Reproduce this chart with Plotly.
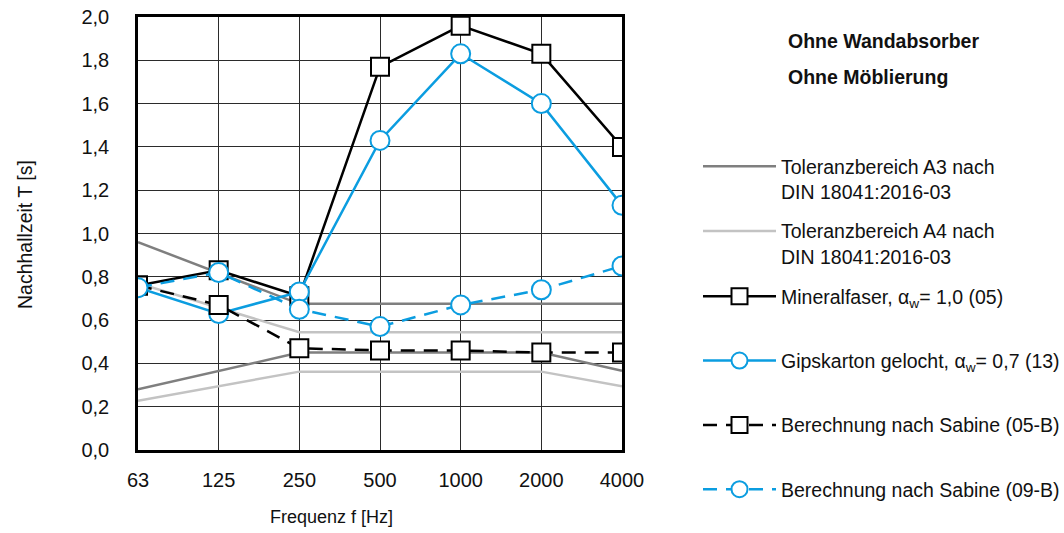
import plotly.graph_objects as go

# Oktavband-Mittenfrequenzen
freq = ["63", "125", "250", "500", "1000", "2000", "4000"]

# Gemessene Nachhallzeiten [s]
mineralfaser = [0.76, 0.83, 0.71, 1.77, 1.96, 1.83, 1.40]
gipskarton = [0.75, 0.63, 0.73, 1.43, 1.83, 1.60, 1.13]

# Berechnete Nachhallzeiten nach Sabine [s]
sabine_05b = [0.76, 0.67, 0.47, 0.46, 0.46, 0.45, 0.45]
sabine_09b = [0.75, 0.82, 0.65, 0.57, 0.67, 0.74, 0.85]

# Toleranzbereiche nach DIN 18041:2016-03 [s]
a3_oben = [0.96, 0.8175, 0.675, 0.675, 0.675, 0.675, 0.675]
a3_unten = [0.28, 0.365, 0.45, 0.45, 0.45, 0.45, 0.366]
a4_oben = [0.77, 0.657, 0.544, 0.544, 0.544, 0.544, 0.544]
a4_unten = [0.227, 0.295, 0.362, 0.362, 0.362, 0.362, 0.294]

y_ticks = [0.0, 0.2, 0.4, 0.6, 0.8, 1.0, 1.2, 1.4, 1.6, 1.8, 2.0]

BLACK = "#000000"
BLUE = "#0b9de0"
GRAY_A3 = "#7f7f7f"
GRAY_A4 = "#c3c3c3"
FONT = "Liberation Sans, Arial, sans-serif"
TXT = "#111111"

fig = go.Figure()

# Toleranzbereiche (obere und untere Grenze je als eigene Linie)
fig.add_trace(go.Scatter(
    x=freq, y=a3_oben, mode="lines", line=dict(color=GRAY_A3, width=2.5),
    name="Toleranzbereich A3 nach<br>DIN 18041:2016-03", legendgroup="a3",
    legend="legend"))
fig.add_trace(go.Scatter(
    x=freq, y=a3_unten, mode="lines", line=dict(color=GRAY_A3, width=2.5),
    showlegend=False, legendgroup="a3", legend="legend"))
fig.add_trace(go.Scatter(
    x=freq, y=a4_oben, mode="lines", line=dict(color=GRAY_A4, width=2.5),
    name="Toleranzbereich A4 nach<br>DIN 18041:2016-03", legendgroup="a4",
    legend="legend"))
fig.add_trace(go.Scatter(
    x=freq, y=a4_unten, mode="lines", line=dict(color=GRAY_A4, width=2.5),
    showlegend=False, legendgroup="a4", legend="legend"))

sq = dict(symbol="square", size=18, color="white", line=dict(color=BLACK, width=2))
ci = dict(symbol="circle", size=19, color="white", line=dict(color=BLUE, width=2))

# Messungen und Berechnungen
fig.add_trace(go.Scatter(
    x=freq, y=mineralfaser, mode="lines+markers",
    line=dict(color=BLACK, width=2.5), marker=sq,
    name="Mineralfaser, α<sub>w</sub>= 1,0 (05)", legendgroup="m05",
    legend="legend2"))
fig.add_trace(go.Scatter(
    x=freq, y=gipskarton, mode="lines+markers",
    line=dict(color=BLUE, width=2.5), marker=ci,
    name="Gipskarton gelocht, α<sub>w</sub>= 0,7 (13)", legendgroup="g13",
    legend="legend2"))
fig.add_trace(go.Scatter(
    x=freq, y=sabine_05b, mode="lines+markers",
    line=dict(color=BLACK, width=2.5, dash="14px,9px"), marker=sq,
    name="Berechnung nach Sabine (05-B)", legendgroup="s05",
    legend="legend2"))
fig.add_trace(go.Scatter(
    x=freq, y=sabine_09b, mode="lines+markers",
    line=dict(color=BLUE, width=2.5, dash="14px,9px"), marker=ci,
    name="Berechnung nach Sabine (09-B)", legendgroup="s09",
    legend="legend2"))

legend_common = dict(
    x=(698 - 138) / 484, xanchor="left", yanchor="top",
    traceorder="grouped", valign="top", itemwidth=73, maxheight=520,
    font=dict(family=FONT, size=19.5, color=TXT),
    bgcolor="rgba(0,0,0,0)",
)

fig.update_layout(
    width=1064, height=533,
    margin=dict(l=138, r=442, t=17, b=83, autoexpand=False),
    paper_bgcolor="white", plot_bgcolor="white",
    separators=", ",
    font=dict(family=FONT, size=18, color=TXT),
    legend=dict(legend_common, y=(450 - 147) / 433, tracegroupgap=11),
    legend2=dict(legend_common, y=(450 - 277) / 433, tracegroupgap=36),
    xaxis=dict(
        type="category", categoryorder="array", categoryarray=freq,
        range=[0, 6], showgrid=True, gridcolor="#2b2b2b", gridwidth=1,
        showline=True, linecolor=BLACK, linewidth=2.5, mirror=True,
        ticks="", ticklabelstandoff=10, tickfont=dict(size=20, color=TXT),
        zeroline=False,
    ),
    yaxis=dict(
        range=[0, 2], tickvals=y_ticks, tickformat=".1f",
        showgrid=True, gridcolor="#2b2b2b", gridwidth=1,
        showline=True, linecolor=BLACK, linewidth=2.5, mirror=True,
        ticks="", ticklabelstandoff=22, tickfont=dict(size=20, color=TXT),
        zeroline=False,
    ),
    annotations=[
        dict(text="Frequenz f [Hz]", xref="paper", yref="paper",
             x=(331 - 138) / 484, y=-(517 - 450) / 433,
             xanchor="center", yanchor="middle", showarrow=False,
             font=dict(size=18, color=TXT)),
        dict(text="Nachhallzeit T [s]", xref="paper", yref="paper",
             x=(25 - 138) / 484, y=(450 - 235) / 433, textangle=-90,
             xanchor="center", yanchor="middle", showarrow=False,
             font=dict(size=19.5, color=TXT)),
        dict(text="<b>Ohne Wandabsorber</b>", xref="paper", yref="paper",
             x=(786 - 138) / 484, y=(450 - 41) / 433,
             xanchor="left", yanchor="middle", showarrow=False,
             font=dict(size=19.5, color=TXT)),
        dict(text="<b>Ohne Möblierung</b>", xref="paper", yref="paper",
             x=(786 - 138) / 484, y=(450 - 77) / 433,
             xanchor="left", yanchor="middle", showarrow=False,
             font=dict(size=19.5, color=TXT)),
    ],
)

fig.write_html("out.html")
